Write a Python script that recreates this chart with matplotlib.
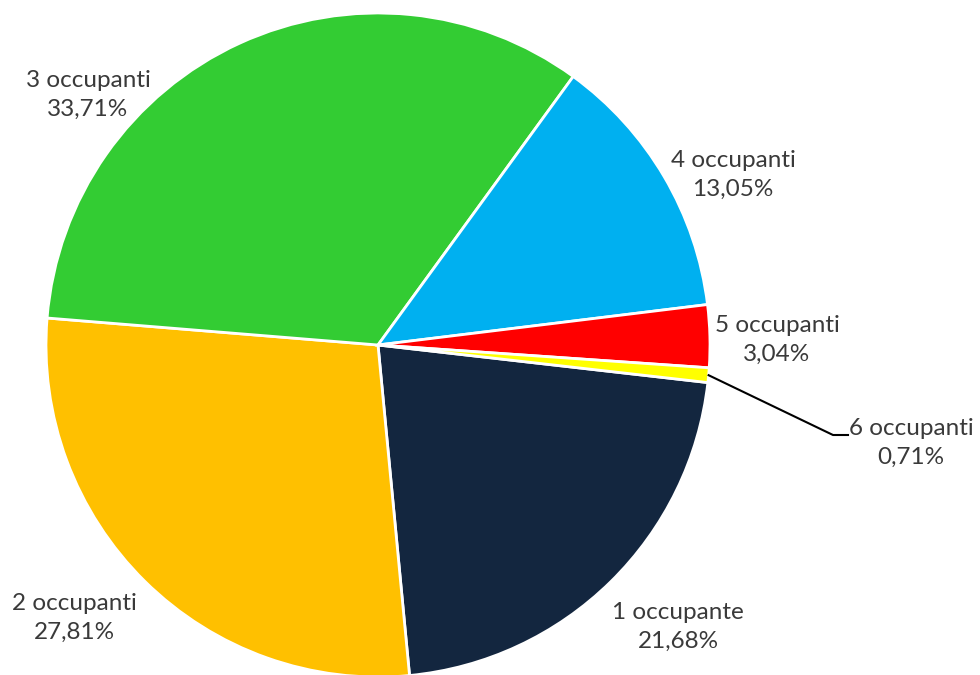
import matplotlib.pyplot as plt
import numpy as np

labels = ["1 occupante", "2 occupanti", "3 occupanti", "4 occupanti", "5 occupanti", "6 occupanti"]
shares = [21.68, 27.81, 33.71, 13.05, 3.04, 0.71]
colors = ["#13263F", "#FFC000", "#33CC33", "#00B0F0", "#FF0000", "#FFFF00"]

# label centres in pixels (x from left, y from top), picked to match the layout
label_px = [(678, 627), (74, 618), (88, 95), (733, 175), (777, 340), (911, 443)]

W, H = 980, 675
cx, cy, r = 378, 345, 332
start_angle = -6.5

fig = plt.figure(figsize=(W / 100, H / 100), dpi=100)
ax = fig.add_axes([0, 0, 1, 1])

ax.pie(shares, colors=colors, startangle=start_angle, counterclock=False,
       wedgeprops=dict(edgecolor="white", linewidth=2))

ax.set_xlim(-cx / r, (W - cx) / r)
ax.set_ylim(-(H - cy) / r, cy / r)
ax.set_aspect("equal")
ax.axis("off")

def to_data(px, py):
    return (px - cx) / r, (cy - py) / r

for name, val, (px, py) in zip(labels, shares, label_px):
    x, y = to_data(px, py)
    txt = f"{name}\n{val:.2f}%".replace(".", ",")
    ax.text(x, y, txt, ha="center", va="center", fontsize=17.5,
            family="Lato", color="#3A3A3A", linespacing=1.45)

# leader line for the tiny 6 occupanti slice
mid = sum(shares[:5]) + shares[5] / 2
theta = np.deg2rad(start_angle - 360 * mid / 100)
p0 = (np.cos(theta), np.sin(theta))
p1 = to_data(833, 435)
p2 = to_data(848, 435)
ax.plot([p0[0], p1[0], p2[0]], [p0[1], p1[1], p2[1]], color="black", lw=1.5)

fig.savefig("out.png", dpi=100)
